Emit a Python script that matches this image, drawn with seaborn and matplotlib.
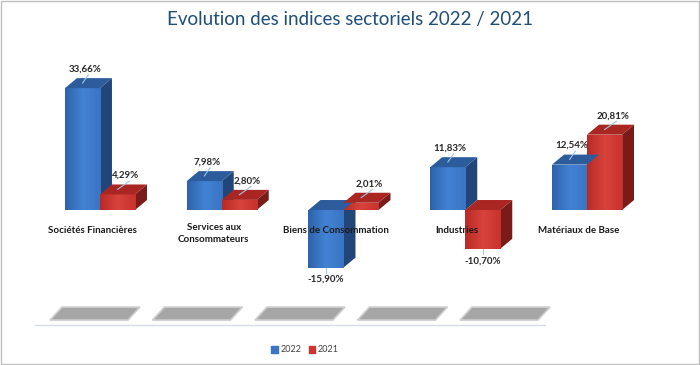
import matplotlib
matplotlib.use('Agg')
import matplotlib.pyplot as plt
import matplotlib.patches as mpatches
from matplotlib.colors import LinearSegmentedColormap
import numpy as np
import seaborn as sns
import pandas as pd

categories = ['Sociétés Financières', 'Services aux\nConsommateurs', 'Biens de Consommation',
              'Industries', 'Matériaux de Base']
years = ['2022', '2021']
values_2022 = [33.66, 7.98, -15.90, 11.83, 12.54]
values_2021 = [4.29, 2.80, 2.01, -10.70, 20.81]

df = pd.DataFrame({
    'Secteur': categories * 2,
    'Année': ['2022'] * 5 + ['2021'] * 5,
    'Valeur': values_2022 + values_2021,
})

front = {'2022': '#3A74C2', '2021': '#CF3530'}
grad = {'2022': ['#2E62AA', '#4383D4', '#3A74C2'], '2021': ['#B92A26', '#D8433C', '#C8322D']}
top_col = {'2022': '#2D5C9C', '2021': '#A92622'}
side_col = {'2022': '#22467A', '2021': '#7A1B19'}
label_shift = {'2022': 0.2, '2021': 0.7}

sns.set_style('white')
plt.rcParams['font.family'] = ['Lato', 'DejaVu Sans']

fig = plt.figure(figsize=(7, 3.65), dpi=100)
ax = fig.add_axes([0, 0, 1, 1])

sns.barplot(data=df, x='Secteur', y='Valeur', hue='Année', hue_order=years,
            palette=front, width=0.575, ax=ax, legend=False, saturation=1,
            linewidth=0, edgecolor='none')

# pixel scale of the axes (fig is 700 x 365 px)
ax.set_xlim(-0.821, 4.928)
ax.set_ylim(-42.8, 58.0)
ax.axis('off')
px_x = 700 / (4.928 + 0.821)
px_y = 365 / (58.0 + 42.8)
dx = 12 / px_x
dy = 10 / px_y

# 3D top and side faces, value labels
n = len(categories)
for i, bar in enumerate(list(ax.patches[:2 * n])):
    yr = years[i // n]
    x0 = bar.get_x()
    w = bar.get_width()
    h = bar.get_height()
    y0 = bar.get_y()
    y1 = y0 + h
    lo, hi = min(y0, y1), max(y0, y1)
    bar.set_zorder(3)
    cmap = LinearSegmentedColormap.from_list('g', grad[yr])
    im = ax.imshow(np.linspace(0, 1, 64).reshape(1, -1), cmap=cmap, aspect='auto',
                   extent=(x0, x0 + w, lo, hi), zorder=3.1)
    im.set_clip_path(bar)
    topf = mpatches.Polygon([(x0, hi), (x0 + dx, hi + dy), (x0 + w + dx, hi + dy), (x0 + w, hi)],
                            closed=True, facecolor=top_col[yr], edgecolor='none', zorder=3.2)
    sidef = mpatches.Polygon([(x0 + w, lo), (x0 + w + dx, lo + dy), (x0 + w + dx, hi + dy), (x0 + w, hi)],
                             closed=True, facecolor=side_col[yr], edgecolor='none', zorder=2)
    ax.add_patch(sidef)
    ax.add_patch(topf)
    val = h
    txt = f'{val:.2f}'.replace('.', ',') + '%'
    cx = x0 + w / 2
    if val >= 0:
        lx = cx + label_shift[yr] * dx
        ly = hi + dy + 9 / px_y
        ax.plot([cx, lx + 0.3 * dx], [hi + 0.5 * dy, ly - 5.5 / px_y],
                color='#9DC3E6', lw=0.8, zorder=4)
        ax.text(lx, ly, txt, ha='center', va='center', fontsize=7, fontweight='bold',
                color='#262626', zorder=5)
    else:
        ly = lo - 12 / px_y
        ax.plot([cx, cx], [lo, lo - 5 / px_y], color='#9DC3E6', lw=0.8, zorder=4)
        ax.text(cx, ly, txt, ha='center', va='center', fontsize=7, fontweight='bold',
                color='#262626', zorder=5)
ax.set_xlim(-0.821, 4.928)
ax.set_ylim(-42.8, 58.0)

# category labels
for i, cat in enumerate(categories):
    yy = -23.5 / px_y if '\n' in cat else -20 / px_y
    ax.text(i - 8 / px_x, yy, cat, ha='center', va='center', fontsize=7, fontweight='bold',
            color='#1a1a1a', linespacing=1.5, zorder=6)

# floor shadows and floor line
for i in range(n):
    c = (95 + 102.5 * i - 100) / px_x
    hw = 39 / px_x
    sl = 6 / px_x
    yb, yt = -30.4, -26.8
    ax.add_patch(mpatches.Polygon([(c - hw - sl, yb), (c - hw + sl, yt), (c + hw + sl, yt), (c + hw - sl, yb)],
                                  closed=True, facecolor='#A6A6A6', edgecolor='#CFCFCF', lw=1.2, zorder=1))
ax.plot([(35 - 100) / px_x, (545 - 100) / px_x], [-31.8, -31.8], color='#D5DCE4', lw=1, zorder=1)

fig.suptitle('Evolution des indices sectoriels 2022 / 2021', y=1 - 20 / 365, va='center',
             fontsize=13.5, fontweight='normal', color='#1F4E79')

handles = [mpatches.Patch(color=front[y], label=y) for y in years]
fig.legend(handles=handles, loc='center', bbox_to_anchor=(305 / 700, 1 - 350 / 365), ncol=2,
           frameon=False, fontsize=6.5, handlelength=0.7, handleheight=0.7, handletextpad=0.3,
           columnspacing=0.8, labelcolor='#404040')

fig.patches.append(mpatches.Rectangle((0.001, 0.002), 0.997, 0.995, transform=fig.transFigure,
                                      fill=False, edgecolor='#BFBFBF', lw=1))

fig.savefig('out.png', dpi=100)
